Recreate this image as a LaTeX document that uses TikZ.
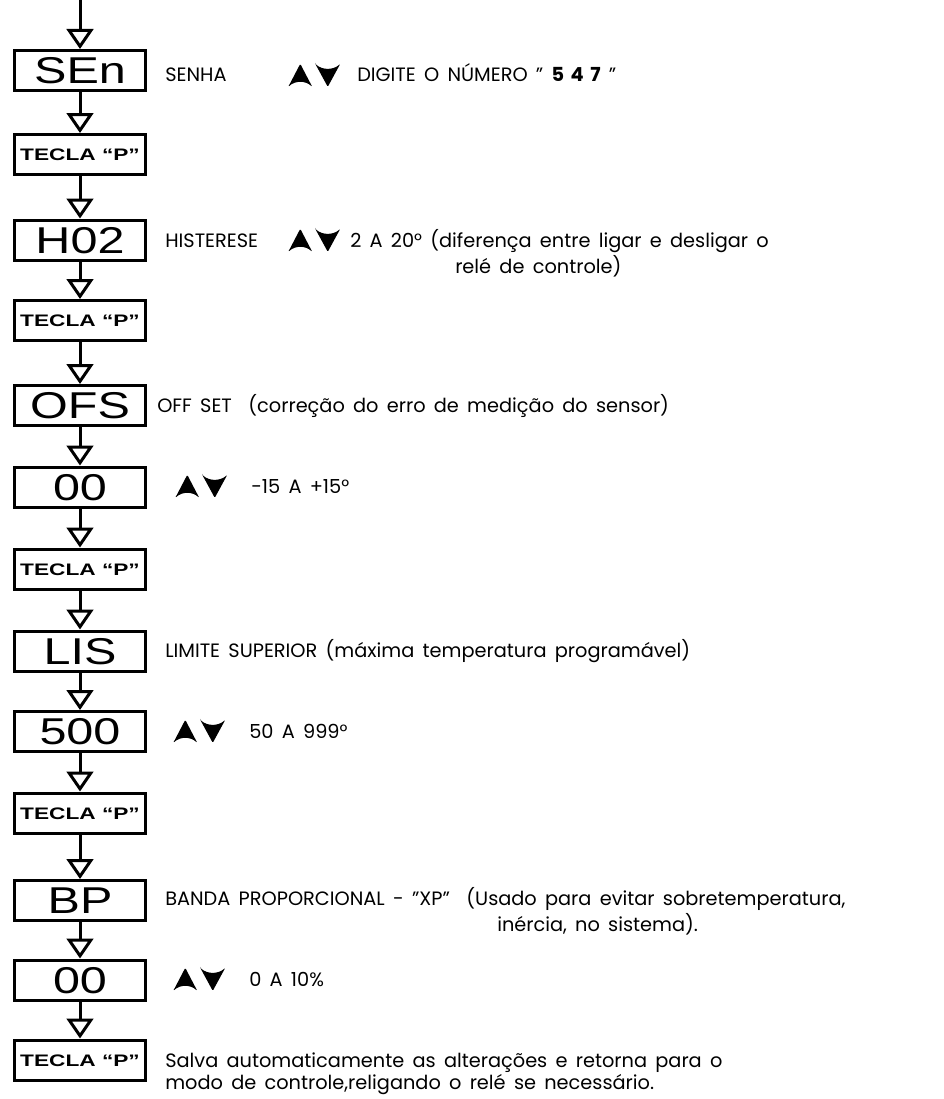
\documentclass[tikz,border=0pt]{standalone}
\usepackage{fontspec}
\setmainfont{Poppins}[WordSpace=1.6]
\newfontfamily\lcdfont{Liberation Sans}[FakeStretch=1.3]
\newfontfamily\keyfont{Liberation Sans}[FakeStretch=1.36]
\usetikzlibrary{arrows.meta}

% up and down keys
\newcommand{\updn}{\tikz[baseline=-5pt,x=0.75pt,y=0.75pt]{%
	\fill[rounded corners=0.8pt] (0,-11.5) -- (12,11.5) -- (24,-11.5) .. controls (17,-5) and (7,-5) .. cycle;
	\fill[rounded corners=0.8pt] (27,11.5) -- (39.5,-11.5) -- (52,11.5) .. controls (45,5) and (34,5) .. cycle;}}

\begin{document}
\begin{tikzpicture}[x=0.75pt,y=-0.75pt]
	
	% Style for the boxes
	\tikzstyle{box}=[
	rectangle,
	draw,
	line width=2.25pt,
	minimum width=98pt,
	minimum height=30pt,
	inner sep=0pt,
	text height=20pt,
	text depth=0pt,
	font=\lcdfont\fontsize{28pt}{30pt}\selectfont
	]
	\tikzstyle{key}=[
	box,
	text height=9pt,
	font=\keyfont\bfseries\fontsize{12.5pt}{14pt}\selectfont
	]
	\tikzstyle{flow}=[-{Triangle[length=15pt,width=20pt,fill=white]},line width=2.25pt]
	\tikzstyle{lbl}=[anchor=base west,inner sep=0pt,font=\fontsize{14.5pt}{17pt}\selectfont]
	\useasboundingbox (0,0) rectangle (944,1099);
	
	% --- the boxes ---
	\coordinate (top) at (80,0);
	\node[box] (SEn) at (80,70.5) {SEn};
	\node[key] (T1) at (80,154.5) {TECLA “P”};
	\node[box] (H02) at (80,240) {H02};
	\node[key] (T2) at (80,320.5) {TECLA “P”};
	\node[box] (OFS) at (80,405.5) {OFS};
	\node[box] (Z1) at (80,487) {00};
	\node[key] (T3) at (80,569) {TECLA “P”};
	\node[box] (LIS) at (80,651) {LIS};
	\node[box] (V500) at (80,731.5) {500};
	\node[key] (T4) at (80,813) {TECLA “P”};
	\node[box] (BP) at (80,900.5) {BP};
	\node[box] (Z2) at (80,980) {00};
	\node[key] (T5) at (80,1060) {TECLA “P”};
	
	\draw[flow] (top) -- (SEn);
	\draw[flow] (SEn) -- (T1);
	\draw[flow] (T1) -- (H02);
	\draw[flow] (H02) -- (T2);
	\draw[flow] (T2) -- (OFS);
	\draw[flow] (OFS) -- (Z1);
	\draw[flow] (Z1) -- (T3);
	\draw[flow] (T3) -- (LIS);
	\draw[flow] (LIS) -- (V500);
	\draw[flow] (V500) -- (T4);
	\draw[flow] (T4) -- (BP);
	\draw[flow] (BP) -- (Z2);
	\draw[flow] (Z2) -- (T5);
	
	% --- the texts ---
	\node[lbl] (senha) at (165,82) {SENHA};
	\node[lbl] (digite) at (288,82) {\updn\hspace{12.75pt}DIGITE O NÚMERO " \textbf{5 4 7} "};
	\node[lbl] (hist) at (165,247) {HISTERESE};
	\node[lbl] (histk) at (288,247) {\updn\hspace{7.5pt}2 A 20° (diferença entre ligar e desligar o};
	\node[lbl] (hist2) at (455,273) {relé de controle)};
	\node[lbl] (offset) at (157,412) {OFF SET \ (correção do erro de medição do sensor)};
	\node[lbl] (faixa1) at (175,493) {\updn\hspace{18pt}-15 A +15°};
	\node[lbl] (limite) at (165,657) {LIMITE SUPERIOR (máxima temperatura programável)};
	\node[lbl] (faixa2) at (173,738) {\updn\hspace{18pt}50 A 999°};
	\node[lbl] (banda) at (165,905) {BANDA PROPORCIONAL - "XP" \ (Usado para evitar sobretemperatura,};
	\node[lbl] (banda2) at (497,931) {inércia, no sistema).};
	\node[lbl] (faixa3) at (173,986) {\updn\hspace{18pt}0 A 10\%};
	\node[lbl] (salva) at (165,1067) {Salva automaticamente as alterações e retorna para o};
	\node[lbl] (modo) at (165,1089) {modo de controle,religando o relé se necessário.};
\end{tikzpicture}
\end{document}
